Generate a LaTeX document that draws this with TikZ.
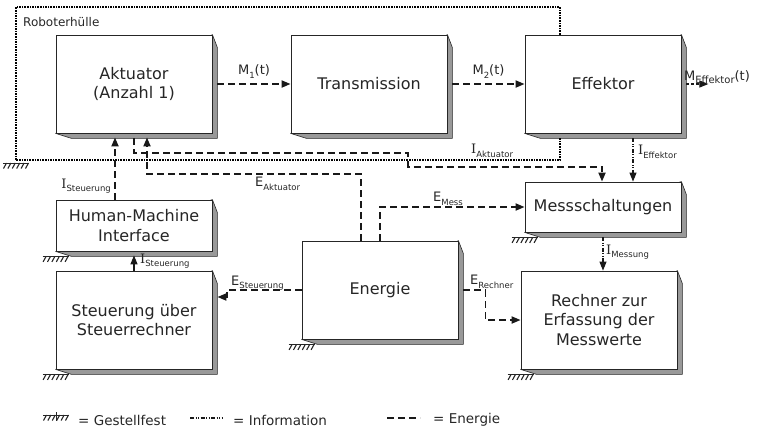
\documentclass[tikz,border=0pt]{standalone}
\usepackage{fontspec}
\setmainfont{DejaVu Sans}
\newfontfamily\serifI{DejaVu Serif}
\usetikzlibrary{arrows.meta,backgrounds}
\newcommand\lsub[1]{\raisebox{-0.5ex}{\fontsize{8.5}{9}\selectfont #1}}
\newcommand\II{{\serifI I}}
\newcommand\gnd[1]{\begin{scope}[shift={(#1)}]
  \draw[line width=1pt,black!85] (-13,5) -- (13,5);
  \foreach \k in {0,...,5} \draw[line width=1.1pt,black!85] (-9.5+\k*4.4,5) -- ++(-3,5.5);
\end{scope}}
\begin{document}
\begin{tikzpicture}[x=1pt,y=-1pt,
  blk/.style={draw=black!85, fill=white, line width=0.8pt, align=center,
    font=\fontsize{16}{19.5}\selectfont, text=black!85, inner sep=0pt},
  ext/.style={fill=black!40, draw=black!85, line width=0.6pt, line join=round},
  en/.style={line width=1.8pt, dash pattern=on 7pt off 4pt, black!90},
  inf/.style={line width=1.1pt, dash pattern=on 4pt off 1.5pt on 1pt off 1.5pt on 1pt off 1.5pt, black!90},
  meff/.style={line width=1.1pt, dash pattern=on 3pt off 2pt, black!90},
  hull/.style={line width=2pt, dash pattern=on 1.6pt off 1pt, black},
  tip/.style={-{Triangle[length=9pt,width=7pt]}},
  lab/.style={font=\fontsize{13}{14}\selectfont, text=black!85, inner sep=0pt},
  leg/.style={font=\fontsize{13.5}{15}\selectfont, text=black!85, inner sep=0pt, anchor=west},
]
\useasboundingbox (0,0) rectangle (761,429);

% blocks
\node[blk, minimum width=156pt, minimum height=98pt] (akt) at (134,84) {Aktuator\\(Anzahl 1)};
\node[blk, minimum width=156pt, minimum height=98pt] (tra) at (369,84) {Transmission};
\node[blk, minimum width=156pt, minimum height=98pt] (eff) at (603,84) {Effektor};
\node[blk, minimum width=156pt, minimum height=51pt] (hmi) at (134,225.5) {Human-Machine\\Interface};
\node[blk, minimum width=156pt, minimum height=98pt] (ste) at (134,320) {Steuerung über\\Steuerrechner};
\node[blk, minimum width=156pt, minimum height=98pt] (ene) at (380,290) {Energie};
\node[blk, minimum width=156pt, minimum height=50pt] (mes) at (603,207) {Messschaltungen};
\node[blk, minimum width=156pt, minimum height=98pt] (rec) at (599,320) {Rechner zur\\Erfassung der\\Messwerte};

\begin{scope}[on background layer]
\foreach \n in {akt,tra,eff,hmi,ste,ene,mes,rec}
  \filldraw[ext] (\n.north east) -- ([shift={(5,13)}]\n.north east) -- ([shift={(5,5)}]\n.south east)
    -- ([shift={(16,5)}]\n.south west) -- (\n.south west) -- cycle;
\end{scope}

% robot hull
\draw[hull] ([xshift=-43pt]eff.north) |- (16,7) |- ([shift={(-43,27)}]eff.south) -- ([shift={(-43,5)}]eff.south);
\node[font=\fontsize{12}{13}\selectfont, text=black!85, inner sep=0pt, anchor=base west] (hl) at (23,26) {Roboterhülle};

% grounds
\gnd{16,158}
\gnd{hmi.south west}
\gnd{ste.south west}
\gnd{ene.south west}
\gnd{mes.south west}
\gnd{rec.south west}

% moments
\draw[en,tip] ([xshift=5pt]akt.east) -- (akt.east -| tra.west) node[lab,midway,above=5pt] {M\lsub{1}(t)};
\draw[en,tip] ([xshift=5pt]tra.east) -- (tra.east -| eff.west) node[lab,midway,above=5pt] {M\lsub{2}(t)};
\coordinate (mout) at ([xshift=27pt]eff.east);
\draw[meff,tip] ([xshift=5pt]eff.east) -- (mout);
\node[lab, anchor=base] (lme) at (717,80) {M\lsub{\fontsize{10}{10}\selectfont Effektor}(t)};

% Steuerung -> Aktuator
\draw[en,tip] ([xshift=-19pt]hmi.north) -- ([shift={(-19,4)}]akt.south);
\node[lab, anchor=east] (lis1) at (111,186) {\II\lsub{Steuerung}};

% I Aktuator
\draw[en,tip] ([shift={(0,5)}]akt.south) |- (408,153) |- ([shift={(-1,-15)}]mes.north) -- ([xshift=-1pt]mes.north);
\node[lab, anchor=west] (lia) at (471,151) {\II\lsub{Aktuator}};

% E Aktuator
\draw[en,tip] ([xshift=-19pt]ene.north) |- (147,174) -- ([shift={(13,4)}]akt.south);
\node[lab, anchor=west] (lea) at (255,184) {E\lsub{Aktuator}};

% E Mess
\draw[en,tip] (ene.north) |- (mes.west);
\node[lab, anchor=west] (lem) at (433,199) {E\lsub{Mess}};

% E Steuerung
\draw[en,tip] (ene.west) -- ++(-75,0) |- ([shift={(5,-23)}]ste.east);
\node[lab, anchor=west] (les) at (231,283) {E\lsub{Steuerung}};

% E Rechner
\draw[en,tip] ([xshift=5pt]ene.east) -- ++(22,0) |- (rec.west);
\node[lab, anchor=west] (ler) at (470,282) {E\lsub{Rechner}};

% information
\draw[inf,tip] ([shift={(30,5)}]eff.south) -- ([xshift=30pt]mes.north);
\node[lab, anchor=west] (lie) at (638,152) {\II\lsub{Effektor}};
\draw[inf,tip] ([shift={(0,5)}]mes.south) -- (mes.south |- rec.north);
\node[lab, anchor=west] (lim) at (606,252) {\II\lsub{Messung}};
\draw[line width=1.2pt, black!90, tip] (ste.north) -- ([shift={(0,4)}]hmi.south);
\node[lab, anchor=west] (lis2) at (140,261) {\II\lsub{Steuerung}};

% legend
\gnd{56,410}
\draw[line width=1pt,black!85] (56,412) -- (56,421);
\node[leg] (lg1) at (78,420) {= Gestellfest};
\draw[inf, line width=1.5pt] (190,418) -- (223,418);
\node[leg] (lg2) at (233,420) {= Information};
\draw[en] (387,418) -- (420,418);
\node[leg] (lg3) at (433,420) {= Energie};
\end{tikzpicture}
\end{document}
